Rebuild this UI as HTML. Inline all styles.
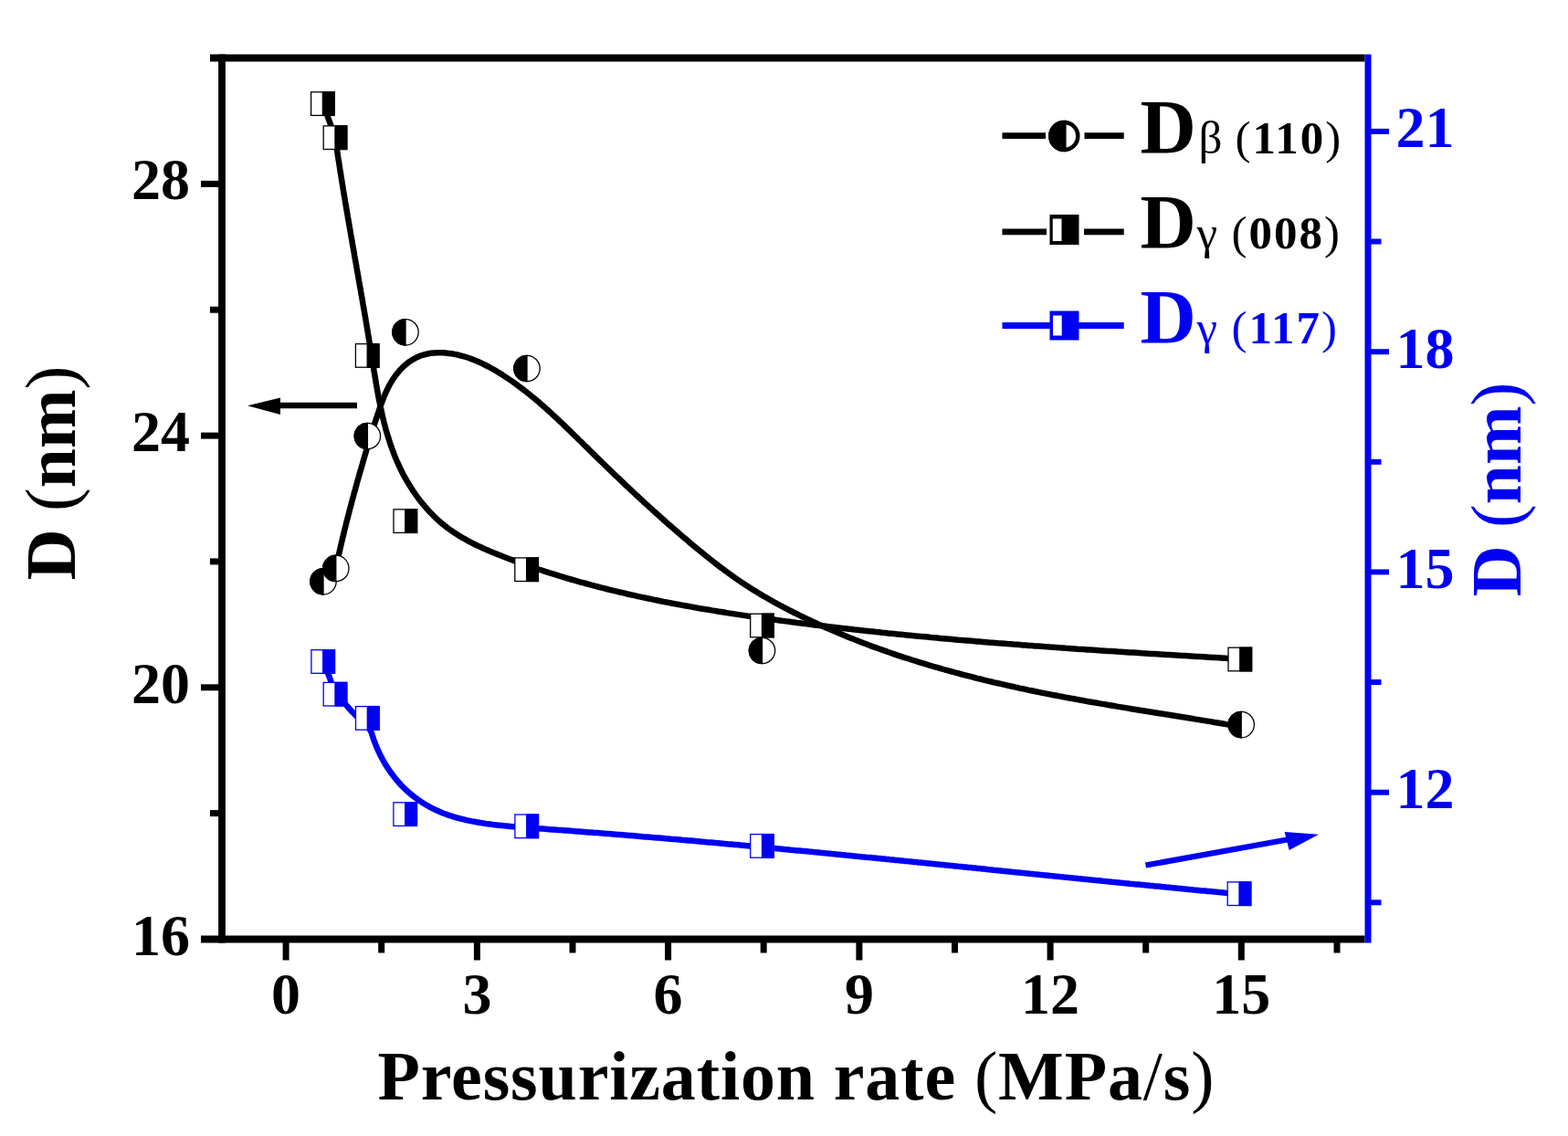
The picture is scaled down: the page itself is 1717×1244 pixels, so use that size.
<!DOCTYPE html>
<html><head><meta charset="utf-8"><title>Crystallite size vs pressurization rate</title>
<style>html,body{margin:0;padding:0;background:#fff;overflow:hidden}svg{display:block}</style>
</head><body>
<svg width="1717" height="1244" viewBox="0 0 1717 1244"><rect width="1717" height="1244" fill="#fff"/><g stroke="#000" stroke-width="7.8" fill="none"><line x1="230" y1="63.5" x2="1494.5" y2="63.5"/><line x1="220" y1="1028.5" x2="1494.5" y2="1028.5"/><line x1="243" y1="59.6" x2="243" y2="1032.4"/></g><g stroke="#000" stroke-width="7"><line x1="313.1" y1="1028.5" x2="313.1" y2="1051.5"/><line x1="522.4" y1="1028.5" x2="522.4" y2="1051.5"/><line x1="731.6" y1="1028.5" x2="731.6" y2="1051.5"/><line x1="940.9" y1="1028.5" x2="940.9" y2="1051.5"/><line x1="1150.1" y1="1028.5" x2="1150.1" y2="1051.5"/><line x1="1359.3" y1="1028.5" x2="1359.3" y2="1051.5"/><line x1="417.7" y1="1028.5" x2="417.7" y2="1043.5"/><line x1="627.0" y1="1028.5" x2="627.0" y2="1043.5"/><line x1="836.2" y1="1028.5" x2="836.2" y2="1043.5"/><line x1="1045.5" y1="1028.5" x2="1045.5" y2="1043.5"/><line x1="1254.7" y1="1028.5" x2="1254.7" y2="1043.5"/><line x1="1464.0" y1="1028.5" x2="1464.0" y2="1043.5"/><line x1="220" y1="1028.5" x2="243" y2="1028.5"/><line x1="220" y1="752.8" x2="243" y2="752.8"/><line x1="220" y1="477.1" x2="243" y2="477.1"/><line x1="220" y1="201.4" x2="243" y2="201.4"/><line x1="230" y1="890.6" x2="243" y2="890.6"/><line x1="230" y1="614.9" x2="243" y2="614.9"/><line x1="230" y1="339.2" x2="243" y2="339.2"/><line x1="230" y1="63.5" x2="243" y2="63.5"/></g><g stroke="#0000f2" stroke-width="6"><line x1="1498" y1="59.6" x2="1498" y2="1032.4" stroke-width="7"/><line x1="1498" y1="867.7" x2="1521" y2="867.7"/><line x1="1498" y1="626.4" x2="1521" y2="626.4"/><line x1="1498" y1="385.2" x2="1521" y2="385.2"/><line x1="1498" y1="143.9" x2="1521" y2="143.9"/><line x1="1498" y1="988.3" x2="1512.5" y2="988.3"/><line x1="1498" y1="747.0" x2="1512.5" y2="747.0"/><line x1="1498" y1="505.8" x2="1512.5" y2="505.8"/><line x1="1498" y1="264.5" x2="1512.5" y2="264.5"/></g><g font-family="'Liberation Serif', 'Times New Roman', serif" font-weight="bold" font-size="64" fill="#000"><text x="313.1" y="1110" text-anchor="middle">0</text><text x="522.4" y="1110" text-anchor="middle">3</text><text x="731.6" y="1110" text-anchor="middle">6</text><text x="940.9" y="1110" text-anchor="middle">9</text><text x="1150.1" y="1110" text-anchor="middle">12</text><text x="1359.3" y="1110" text-anchor="middle">15</text><text x="208" y="1045.5" text-anchor="end">16</text><text x="208" y="769.8" text-anchor="end">20</text><text x="208" y="494.1" text-anchor="end">24</text><text x="208" y="218.4" text-anchor="end">28</text></g><g font-family="'Liberation Serif', 'Times New Roman', serif" font-weight="bold" font-size="64" fill="#0000f2"><text x="1528.5" y="885.2">12</text><text x="1528.5" y="643.9">15</text><text x="1528.5" y="402.7">18</text><text x="1528.5" y="161.4">21</text></g><text x="872" y="1204" text-anchor="middle" font-family="'Liberation Serif', 'Times New Roman', serif" font-weight="bold" font-size="76" letter-spacing="0.87">Pressurization rate <tspan font-weight="normal">(</tspan>MPa<tspan font-weight="normal">/</tspan>s<tspan font-weight="normal">)</tspan></text><text transform="translate(81.5,518) rotate(-90)" text-anchor="middle" font-family="'Liberation Serif', 'Times New Roman', serif" font-weight="bold" font-size="77.5">D <tspan font-weight="normal">(</tspan>nm<tspan font-weight="normal">)</tspan></text><text transform="translate(1665.4,536) rotate(-90)" text-anchor="middle" font-family="'Liberation Serif', 'Times New Roman', serif" font-weight="bold" font-size="77.5" fill="#0000f2">D <tspan font-weight="normal">(</tspan>nm<tspan font-weight="normal">)</tspan></text><path d="M353.4,113.6 L358.5,126.6 L367.0,150.5 L367.5,153.9 L368.0,157.3 L368.5,160.7 L369.0,164.0 L369.5,167.4 L370.0,170.8 L370.5,174.1 L371.1,177.5 L371.6,180.9 L372.1,184.2 L372.6,187.6 L373.2,190.9 L373.7,194.2 L374.2,197.6 L374.8,200.9 L375.3,204.2 L375.8,207.5 L376.4,210.9 L376.9,214.2 L377.5,217.5 L378.0,220.8 L378.6,224.1 L379.1,227.4 L379.7,230.7 L380.3,234.0 L380.8,237.3 L381.4,240.6 L382.0,243.9 L382.5,247.2 L383.1,250.4 L383.7,253.7 L384.2,257.0 L384.8,260.3 L385.4,263.6 L385.9,266.9 L386.5,270.1 L387.1,273.4 L387.7,276.7 L388.2,280.0 L388.8,283.3 L389.4,286.5 L390.0,289.8 L390.5,293.1 L391.1,296.4 L391.7,299.6 L392.3,302.9 L392.8,306.2 L393.4,309.5 L394.0,312.8 L394.6,316.1 L395.1,319.3 L395.7,322.6 L396.3,325.9 L396.9,329.2 L397.4,332.5 L398.0,335.8 L398.6,339.1 L399.1,342.4 L399.7,345.7 L400.3,349.0 L400.8,352.3 L401.4,355.6 L401.9,358.9 L402.5,362.2 L403.0,365.6 L403.6,368.9 L404.1,372.2 L404.7,375.5 L405.2,378.9 L405.8,382.2 L406.3,385.6 L406.9,388.9 L407.4,392.3 L407.9,395.6 L408.5,399.0 L409.0,402.3 L409.5,405.7 L410.1,409.1 L410.6,412.4 L411.2,415.8 L411.7,419.2 L412.3,422.5 L412.9,425.9 L413.5,429.3 L414.1,432.6 L414.7,436.0 L415.4,439.3 L416.1,442.6 L416.7,446.0 L417.5,449.3 L418.2,452.6 L418.9,455.9 L419.7,459.2 L420.5,462.5 L421.4,465.8 L422.2,469.1 L423.1,472.3 L424.1,475.6 L425.1,478.8 L426.1,482.0 L427.1,485.2 L428.2,488.4 L429.3,491.5 L430.5,494.7 L431.7,497.8 L432.9,500.9 L434.2,504.0 L435.6,507.1 L437.0,510.2 L438.4,513.2 L439.9,516.2 L441.4,519.2 L443.0,522.1 L444.6,525.0 L446.3,527.9 L448.0,530.8 L449.8,533.6 L451.6,536.4 L453.4,539.2 L455.3,541.9 L457.3,544.6 L459.3,547.2 L461.3,549.9 L463.4,552.4 L465.5,554.9 L467.7,557.4 L469.9,559.9 L472.2,562.2 L474.5,564.6 L476.9,566.9 L479.3,569.1 L481.7,571.3 L484.2,573.4 L486.8,575.5 L489.4,577.6 L492.0,579.5 L494.7,581.4 L497.4,583.3 L500.2,585.1 L503.0,586.9 L505.9,588.6 L508.8,590.2 L511.7,591.8 L514.6,593.4 L517.6,595.0 L520.6,596.5 L523.6,597.9 L526.7,599.3 L529.8,600.7 L532.9,602.1 L536.0,603.4 L539.1,604.8 L542.3,606.0 L545.4,607.3 L548.6,608.6 L551.7,609.8 L554.9,611.0 L558.1,612.2 L561.3,613.4 L564.4,614.6 L567.6,615.7 L570.8,616.9 L574.0,618.0 L577.2,619.1 L580.4,620.2 L583.6,621.3 L586.8,622.4 L590.0,623.5 L593.2,624.5 L596.4,625.6 L599.6,626.6 L602.8,627.7 L606.1,628.7 L609.3,629.7 L612.5,630.7 L615.7,631.6 L618.9,632.6 L622.2,633.6 L625.4,634.5 L628.6,635.4 L631.9,636.3 L635.1,637.3 L638.4,638.2 L641.6,639.0 L644.8,639.9 L648.1,640.8 L651.3,641.7 L654.6,642.5 L657.8,643.3 L661.1,644.2 L664.4,645.0 L667.6,645.8 L670.9,646.6 L674.1,647.4 L677.4,648.2 L680.7,648.9 L683.9,649.7 L687.2,650.5 L690.5,651.2 L693.8,651.9 L697.0,652.7 L700.3,653.4 L703.6,654.1 L706.9,654.8 L710.2,655.5 L713.4,656.2 L716.7,656.9 L720.0,657.5 L723.3,658.2 L726.6,658.9 L729.9,659.5 L733.2,660.1 L736.5,660.8 L739.8,661.4 L743.1,662.0 L746.4,662.6 L749.7,663.2 L753.0,663.8 L756.3,664.4 L759.6,665.0 L762.9,665.6 L766.2,666.2 L769.5,666.7 L772.8,667.3 L776.1,667.8 L779.4,668.4 L782.7,668.9 L786.0,669.5 L789.4,670.0 L792.7,670.5 L796.0,671.1 L799.3,671.6 L802.6,672.1 L805.9,672.6 L809.3,673.1 L812.6,673.6 L815.9,674.1 L819.2,674.6 L822.5,675.1 L825.9,675.5 L829.2,676.0 L832.5,676.5 L835.8,676.9 L839.2,677.4 L842.5,677.9 L845.8,678.3 L849.1,678.8 L852.5,679.2 L855.8,679.7 L859.1,680.1 L862.5,680.6 L865.8,681.0 L869.1,681.4 L872.4,681.9 L875.8,682.3 L879.1,682.7 L882.4,683.1 L885.8,683.6 L889.1,684.0 L892.4,684.4 L895.8,684.8 L899.1,685.2 L902.4,685.6 L905.8,686.0 L909.1,686.4 L912.4,686.8 L915.8,687.2 L919.1,687.6 L922.4,687.9 L925.8,688.3 L929.1,688.7 L932.4,689.1 L935.8,689.5 L939.1,689.8 L942.4,690.2 L945.8,690.6 L949.1,690.9 L952.5,691.3 L955.8,691.6 L959.1,692.0 L962.5,692.3 L965.8,692.7 L969.1,693.0 L972.5,693.4 L975.8,693.7 L979.2,694.1 L982.5,694.4 L985.9,694.7 L989.2,695.1 L992.5,695.4 L995.9,695.7 L999.2,696.1 L1002.6,696.4 L1005.9,696.7 L1009.2,697.0 L1012.6,697.3 L1015.9,697.6 L1019.3,698.0 L1022.6,698.3 L1026.0,698.6 L1029.3,698.9 L1032.7,699.2 L1036.0,699.5 L1039.4,699.8 L1042.7,700.1 L1046.0,700.4 L1049.4,700.7 L1052.7,700.9 L1056.1,701.2 L1059.4,701.5 L1062.8,701.8 L1066.1,702.1 L1069.5,702.4 L1072.8,702.6 L1076.2,702.9 L1079.5,703.2 L1082.9,703.5 L1086.2,703.7 L1089.6,704.0 L1092.9,704.3 L1096.3,704.5 L1099.6,704.8 L1103.0,705.1 L1106.3,705.3 L1109.7,705.6 L1113.0,705.8 L1116.4,706.1 L1119.7,706.4 L1123.1,706.6 L1126.4,706.9 L1129.8,707.1 L1133.1,707.4 L1136.5,707.6 L1139.8,707.8 L1143.2,708.1 L1146.5,708.3 L1149.9,708.6 L1153.2,708.8 L1156.6,709.0 L1159.9,709.3 L1163.3,709.5 L1166.6,709.8 L1170.0,710.0 L1173.3,710.2 L1176.7,710.4 L1180.0,710.7 L1183.4,710.9 L1186.8,711.1 L1190.1,711.4 L1193.5,711.6 L1196.8,711.8 L1200.2,712.0 L1203.5,712.3 L1206.9,712.5 L1210.2,712.7 L1213.6,712.9 L1216.9,713.1 L1220.3,713.3 L1223.6,713.6 L1227.0,713.8 L1230.4,714.0 L1233.7,714.2 L1237.1,714.4 L1240.4,714.6 L1243.8,714.8 L1247.1,715.0 L1250.5,715.3 L1253.8,715.5 L1257.2,715.7 L1260.5,715.9 L1263.9,716.1 L1267.3,716.3 L1270.6,716.5 L1274.0,716.7 L1277.3,716.9 L1280.7,717.1 L1284.0,717.3 L1287.4,717.5 L1290.7,717.7 L1294.1,717.9 L1297.4,718.1 L1300.8,718.3 L1304.2,718.5 L1307.5,718.7 L1310.9,718.9 L1314.2,719.1 L1317.6,719.3 L1320.9,719.5 L1324.3,719.7 L1327.6,719.9 L1331.0,720.1 L1334.3,720.3 L1337.7,720.5 L1341.1,720.7 L1344.4,720.9 L1347.8,721.1 L1351.1,721.3 L1354.5,721.5 L1357.8,721.7" fill="none" stroke="#000" stroke-width="6.5" stroke-linejoin="round"/><path d="M353.9,636.8 L367.6,622.4 L368.3,619.3 L369.0,616.2 L369.7,613.1 L370.4,609.9 L371.1,606.8 L371.8,603.7 L372.5,600.6 L373.2,597.5 L374.0,594.4 L374.7,591.3 L375.4,588.2 L376.2,585.1 L376.9,582.0 L377.7,578.9 L378.5,575.8 L379.2,572.7 L380.0,569.6 L380.8,566.6 L381.6,563.5 L382.4,560.4 L383.2,557.3 L384.0,554.3 L384.8,551.2 L385.6,548.1 L386.5,545.0 L387.3,542.0 L388.1,538.9 L389.0,535.9 L389.8,532.8 L390.7,529.7 L391.5,526.7 L392.4,523.6 L393.2,520.6 L394.1,517.5 L395.0,514.5 L395.9,511.5 L396.8,508.4 L397.6,505.4 L398.5,502.3 L399.4,499.3 L400.3,496.3 L401.2,493.2 L402.1,490.2 L403.1,487.2 L404.0,484.2 L404.9,481.1 L405.8,478.1 L406.7,475.1 L407.7,472.1 L408.6,469.1 L409.6,466.0 L410.5,463.0 L411.5,460.0 L412.5,457.0 L413.5,454.0 L414.5,451.0 L415.5,447.9 L416.6,444.9 L417.7,441.9 L418.8,438.9 L420.0,435.9 L421.2,432.9 L422.5,429.9 L423.8,427.0 L425.2,424.1 L426.7,421.3 L428.3,418.5 L430.0,415.8 L431.8,413.1 L433.7,410.5 L435.7,408.0 L437.7,405.6 L439.8,403.4 L442.1,401.2 L444.4,399.1 L446.8,397.2 L449.2,395.4 L451.8,393.8 L454.5,392.3 L457.2,390.9 L460.0,389.8 L462.9,388.8 L465.9,388.0 L468.9,387.3 L472.0,386.8 L475.2,386.5 L478.4,386.3 L481.6,386.2 L484.8,386.3 L488.0,386.5 L491.3,386.9 L494.5,387.3 L497.7,387.9 L500.9,388.5 L504.0,389.3 L507.2,390.1 L510.2,391.0 L513.3,392.0 L516.3,393.1 L519.3,394.2 L522.3,395.5 L525.2,396.8 L528.1,398.1 L530.9,399.5 L533.8,401.0 L536.6,402.5 L539.4,404.0 L542.2,405.6 L544.9,407.3 L547.6,408.9 L550.3,410.6 L553.0,412.4 L555.6,414.1 L558.3,415.9 L560.9,417.7 L563.5,419.5 L566.0,421.4 L568.6,423.3 L571.1,425.2 L573.6,427.1 L576.1,429.0 L578.6,431.0 L581.1,433.0 L583.5,435.0 L586.0,437.0 L588.4,439.1 L590.8,441.1 L593.2,443.2 L595.6,445.3 L598.0,447.4 L600.3,449.5 L602.7,451.7 L605.0,453.8 L607.3,456.0 L609.7,458.1 L612.0,460.3 L614.3,462.5 L616.6,464.7 L618.9,466.9 L621.2,469.1 L623.5,471.3 L625.8,473.6 L628.1,475.8 L630.3,478.0 L632.6,480.2 L634.9,482.5 L637.2,484.7 L639.4,487.0 L641.7,489.2 L644.0,491.4 L646.3,493.7 L648.5,495.9 L650.8,498.1 L653.1,500.4 L655.4,502.6 L657.7,504.8 L659.9,507.0 L662.2,509.2 L664.5,511.5 L666.8,513.7 L669.1,515.9 L671.4,518.1 L673.7,520.3 L676.0,522.5 L678.3,524.7 L680.6,526.9 L682.9,529.1 L685.2,531.3 L687.6,533.5 L689.9,535.6 L692.2,537.8 L694.5,540.0 L696.8,542.2 L699.2,544.3 L701.5,546.5 L703.9,548.6 L706.2,550.8 L708.5,552.9 L710.9,555.1 L713.2,557.2 L715.6,559.4 L718.0,561.5 L720.3,563.6 L722.7,565.7 L725.1,567.9 L727.4,570.0 L729.8,572.1 L732.2,574.2 L734.6,576.3 L737.0,578.4 L739.4,580.5 L741.8,582.5 L744.2,584.6 L746.6,586.7 L749.0,588.7 L751.5,590.8 L753.9,592.9 L756.3,594.9 L758.7,596.9 L761.2,599.0 L763.6,601.0 L766.1,603.0 L768.6,605.0 L771.0,607.1 L773.5,609.0 L776.0,611.0 L778.5,613.0 L781.0,615.0 L783.5,616.9 L786.0,618.9 L788.5,620.8 L791.1,622.7 L793.6,624.6 L796.2,626.5 L798.7,628.4 L801.3,630.2 L803.9,632.1 L806.5,633.9 L809.1,635.7 L811.8,637.5 L814.4,639.3 L817.1,641.0 L819.8,642.7 L822.4,644.5 L825.1,646.1 L827.9,647.8 L830.6,649.5 L833.3,651.1 L836.1,652.7 L838.8,654.3 L841.6,655.9 L844.4,657.5 L847.2,659.1 L850.0,660.6 L852.8,662.1 L855.6,663.6 L858.4,665.1 L861.3,666.6 L864.1,668.1 L866.9,669.5 L869.8,671.0 L872.7,672.4 L875.5,673.8 L878.4,675.2 L881.3,676.6 L884.1,678.0 L887.0,679.3 L889.9,680.7 L892.8,682.0 L895.7,683.4 L898.6,684.7 L901.5,686.0 L904.4,687.3 L907.3,688.6 L910.2,689.8 L913.2,691.1 L916.1,692.3 L919.0,693.6 L921.9,694.8 L924.9,696.0 L927.8,697.2 L930.8,698.4 L933.7,699.6 L936.7,700.8 L939.7,701.9 L942.6,703.1 L945.6,704.2 L948.6,705.3 L951.5,706.5 L954.5,707.6 L957.5,708.7 L960.5,709.7 L963.5,710.8 L966.5,711.9 L969.5,712.9 L972.5,714.0 L975.5,715.0 L978.5,716.1 L981.5,717.1 L984.5,718.1 L987.5,719.1 L990.5,720.1 L993.6,721.0 L996.6,722.0 L999.6,723.0 L1002.7,723.9 L1005.7,724.9 L1008.7,725.8 L1011.8,726.7 L1014.8,727.7 L1017.9,728.6 L1020.9,729.5 L1024.0,730.4 L1027.0,731.2 L1030.1,732.1 L1033.2,733.0 L1036.2,733.8 L1039.3,734.7 L1042.4,735.5 L1045.4,736.4 L1048.5,737.2 L1051.6,738.0 L1054.7,738.8 L1057.7,739.6 L1060.8,740.4 L1063.9,741.2 L1067.0,742.0 L1070.1,742.8 L1073.2,743.5 L1076.3,744.3 L1079.4,745.1 L1082.4,745.8 L1085.5,746.5 L1088.6,747.3 L1091.7,748.0 L1094.9,748.7 L1098.0,749.4 L1101.1,750.1 L1104.2,750.8 L1107.3,751.5 L1110.4,752.2 L1113.5,752.9 L1116.6,753.6 L1119.7,754.2 L1122.8,754.9 L1126.0,755.6 L1129.1,756.2 L1132.2,756.8 L1135.3,757.5 L1138.4,758.1 L1141.6,758.8 L1144.7,759.4 L1147.8,760.0 L1150.9,760.6 L1154.1,761.2 L1157.2,761.8 L1160.3,762.4 L1163.5,763.0 L1166.6,763.6 L1169.7,764.2 L1172.8,764.8 L1176.0,765.3 L1179.1,765.9 L1182.2,766.5 L1185.4,767.0 L1188.5,767.6 L1191.6,768.2 L1194.8,768.7 L1197.9,769.3 L1201.0,769.8 L1204.2,770.4 L1207.3,770.9 L1210.5,771.4 L1213.6,772.0 L1216.7,772.5 L1219.9,773.0 L1223.0,773.6 L1226.2,774.1 L1229.3,774.6 L1232.4,775.1 L1235.6,775.6 L1238.7,776.2 L1241.9,776.7 L1245.0,777.2 L1248.1,777.7 L1251.3,778.2 L1254.4,778.7 L1257.6,779.2 L1260.7,779.7 L1263.9,780.3 L1267.0,780.8 L1270.1,781.3 L1273.3,781.8 L1276.4,782.3 L1279.6,782.8 L1282.7,783.3 L1285.9,783.8 L1289.0,784.3 L1292.1,784.8 L1295.3,785.3 L1298.4,785.8 L1301.6,786.3 L1304.7,786.8 L1307.9,787.4 L1311.0,787.9 L1314.1,788.4 L1317.3,788.9 L1320.4,789.4 L1323.6,789.9 L1326.7,790.4 L1329.8,791.0 L1333.0,791.5 L1336.1,792.0 L1339.3,792.5 L1342.4,793.1 L1345.6,793.6 L1348.7,794.1 L1351.8,794.7 L1355.0,795.2" fill="none" stroke="#000" stroke-width="6.5" stroke-linejoin="round"/><path d="M353.7,724.5 L360.9,741.8 L367.0,760.2 L376.0,768.5 L385.0,778.8 L395.0,789.0 L404.5,798.0 L406.9,802.5 L407.6,805.0 L408.4,807.4 L409.2,809.8 L410.1,812.2 L411.0,814.6 L411.9,816.9 L412.9,819.3 L414.0,821.6 L415.0,823.9 L416.1,826.2 L417.3,828.5 L418.5,830.8 L419.7,833.0 L420.9,835.2 L422.2,837.4 L423.6,839.5 L424.9,841.6 L426.4,843.7 L427.8,845.8 L429.3,847.8 L430.8,849.8 L432.4,851.8 L433.9,853.7 L435.6,855.7 L437.2,857.5 L438.9,859.4 L440.6,861.2 L442.4,862.9 L444.2,864.6 L446.0,866.3 L447.9,868.0 L449.8,869.6 L451.7,871.1 L453.6,872.7 L455.6,874.1 L457.6,875.6 L459.6,877.0 L461.7,878.4 L463.7,879.7 L465.9,881.0 L468.0,882.2 L470.1,883.4 L472.3,884.6 L474.5,885.7 L476.7,886.8 L479.0,887.8 L481.2,888.8 L483.5,889.8 L485.8,890.7 L488.1,891.5 L490.4,892.4 L492.8,893.2 L495.1,893.9 L497.5,894.7 L499.9,895.4 L502.3,896.0 L504.7,896.6 L507.1,897.2 L509.6,897.8 L512.0,898.4 L514.5,898.9 L516.9,899.4 L519.4,899.8 L521.9,900.3 L524.4,900.7 L526.9,901.1 L529.4,901.5 L531.8,901.9 L534.4,902.2 L536.9,902.5 L539.4,902.9 L541.9,903.2 L544.4,903.5 L546.9,903.7 L549.4,904.0 L551.9,904.3 L554.4,904.5 L556.9,904.7 L559.4,905.0 L561.9,905.2 L564.4,905.4 L566.9,905.6 L569.4,905.8 L571.9,906.0 L574.4,906.2 L576.9,906.4 L579.4,906.6 L581.9,906.7 L584.4,906.9 L586.9,907.1 L589.4,907.3 L591.9,907.5 L594.4,907.6 L596.9,907.8 L599.4,908.0 L601.9,908.2 L604.4,908.4 L606.9,908.5 L609.3,908.7 L611.8,908.9 L614.3,909.1 L616.8,909.3 L619.3,909.5 L621.8,909.6 L624.3,909.8 L626.8,910.0 L629.3,910.2 L631.8,910.4 L634.3,910.6 L636.8,910.8 L639.3,911.0 L641.8,911.2 L644.3,911.4 L646.8,911.5 L649.3,911.7 L651.8,911.9 L654.3,912.1 L656.8,912.3 L659.3,912.5 L661.8,912.7 L664.2,912.9 L666.7,913.1 L669.2,913.3 L671.7,913.5 L674.2,913.7 L676.7,913.9 L679.2,914.1 L681.7,914.3 L684.2,914.5 L686.7,914.7 L689.2,914.9 L691.7,915.1 L694.2,915.3 L696.7,915.5 L699.2,915.7 L701.7,915.9 L704.2,916.2 L706.7,916.4 L709.1,916.6 L711.6,916.8 L714.1,917.0 L716.6,917.2 L719.1,917.4 L721.6,917.6 L724.1,917.8 L726.6,918.0 L729.1,918.3 L731.6,918.5 L734.1,918.7 L736.6,918.9 L739.1,919.1 L741.6,919.3 L744.1,919.5 L746.6,919.8 L749.0,920.0 L751.5,920.2 L754.0,920.4 L756.5,920.6 L759.0,920.8 L761.5,921.1 L764.0,921.3 L766.5,921.5 L769.0,921.7 L771.5,921.9 L774.0,922.2 L776.5,922.4 L779.0,922.6 L781.5,922.8 L783.9,923.1 L786.4,923.3 L788.9,923.5 L791.4,923.7 L793.9,924.0 L796.4,924.2 L798.9,924.4 L801.4,924.6 L803.9,924.9 L806.4,925.1 L808.9,925.3 L811.4,925.6 L813.9,925.8 L816.4,926.0 L818.8,926.2 L821.3,926.5 L823.8,926.7 L826.3,926.9 L828.8,927.2 L831.3,927.4 L833.8,927.6 L836.3,927.9 L838.8,928.1 L841.3,928.3 L843.8,928.6 L846.3,928.8 L848.8,929.0 L851.2,929.3 L853.7,929.5 L856.2,929.7 L858.7,930.0 L861.2,930.2 L863.7,930.4 L866.2,930.7 L868.7,930.9 L871.2,931.2 L873.7,931.4 L876.2,931.6 L878.7,931.9 L881.1,932.1 L883.6,932.3 L886.1,932.6 L888.6,932.8 L891.1,933.1 L893.6,933.3 L896.1,933.5 L898.6,933.8 L901.1,934.0 L903.6,934.3 L906.1,934.5 L908.6,934.7 L911.0,935.0 L913.5,935.2 L916.0,935.5 L918.5,935.7 L921.0,936.0 L923.5,936.2 L926.0,936.5 L928.5,936.7 L931.0,936.9 L933.5,937.2 L936.0,937.4 L938.5,937.7 L940.9,937.9 L943.4,938.2 L945.9,938.4 L948.4,938.7 L950.9,938.9 L953.4,939.1 L955.9,939.4 L958.4,939.6 L960.9,939.9 L963.4,940.1 L965.9,940.4 L968.3,940.6 L970.8,940.9 L973.3,941.1 L975.8,941.4 L978.3,941.6 L980.8,941.9 L983.3,942.1 L985.8,942.4 L988.3,942.6 L990.8,942.9 L993.3,943.1 L995.7,943.4 L998.2,943.6 L1000.7,943.9 L1003.2,944.1 L1005.7,944.4 L1008.2,944.6 L1010.7,944.9 L1013.2,945.1 L1015.7,945.4 L1018.2,945.6 L1020.7,945.9 L1023.1,946.1 L1025.6,946.4 L1028.1,946.6 L1030.6,946.9 L1033.1,947.1 L1035.6,947.4 L1038.1,947.6 L1040.6,947.9 L1043.1,948.1 L1045.6,948.4 L1048.1,948.6 L1050.5,948.9 L1053.0,949.1 L1055.5,949.4 L1058.0,949.6 L1060.5,949.9 L1063.0,950.1 L1065.5,950.4 L1068.0,950.6 L1070.5,950.9 L1073.0,951.1 L1075.5,951.4 L1077.9,951.6 L1080.4,951.9 L1082.9,952.2 L1085.4,952.4 L1087.9,952.7 L1090.4,952.9 L1092.9,953.2 L1095.4,953.4 L1097.9,953.7 L1100.4,953.9 L1102.9,954.2 L1105.3,954.4 L1107.8,954.7 L1110.3,954.9 L1112.8,955.2 L1115.3,955.4 L1117.8,955.7 L1120.3,955.9 L1122.8,956.2 L1125.3,956.4 L1127.8,956.7 L1130.2,956.9 L1132.7,957.2 L1135.2,957.4 L1137.7,957.7 L1140.2,957.9 L1142.7,958.2 L1145.2,958.4 L1147.7,958.7 L1150.2,959.0 L1152.7,959.2 L1155.2,959.5 L1157.6,959.7 L1160.1,960.0 L1162.6,960.2 L1165.1,960.5 L1167.6,960.7 L1170.1,961.0 L1172.6,961.2 L1175.1,961.5 L1177.6,961.7 L1180.1,962.0 L1182.6,962.2 L1185.0,962.5 L1187.5,962.7 L1190.0,963.0 L1192.5,963.2 L1195.0,963.5 L1197.5,963.7 L1200.0,964.0 L1202.5,964.2 L1205.0,964.4 L1207.5,964.7 L1210.0,964.9 L1212.4,965.2 L1214.9,965.4 L1217.4,965.7 L1219.9,965.9 L1222.4,966.2 L1224.9,966.4 L1227.4,966.7 L1229.9,966.9 L1232.4,967.2 L1234.9,967.4 L1237.4,967.7 L1239.9,967.9 L1242.3,968.2 L1244.8,968.4 L1247.3,968.6 L1249.8,968.9 L1252.3,969.1 L1254.8,969.4 L1257.3,969.6 L1259.8,969.9 L1262.3,970.1 L1264.8,970.4 L1267.3,970.6 L1269.7,970.8 L1272.2,971.1 L1274.7,971.3 L1277.2,971.6 L1279.7,971.8 L1282.2,972.1 L1284.7,972.3 L1287.2,972.5 L1289.7,972.8 L1292.2,973.0 L1294.7,973.3 L1297.2,973.5 L1299.6,973.7 L1302.1,974.0 L1304.6,974.2 L1307.1,974.5 L1309.6,974.7 L1312.1,974.9 L1314.6,975.2 L1317.1,975.4 L1319.6,975.6 L1322.1,975.9 L1324.6,976.1 L1327.1,976.3 L1329.5,976.6 L1332.0,976.8 L1334.5,977.1 L1337.0,977.3 L1339.5,977.5 L1342.0,977.8 L1344.5,978.0 L1347.0,978.2 L1349.5,978.5 L1352.0,978.7 L1354.5,978.9 L1357.0,979.2" fill="none" stroke="#0000f2" stroke-width="6.5" stroke-linejoin="round"/><rect x="340.6" y="100.8" width="25.6" height="25.6" fill="#fff" stroke="#000" stroke-width="1.3"/><rect x="353.4" y="100.8" width="12.8" height="25.6" fill="#000" stroke="#000" stroke-width="1.3"/><rect x="354.2" y="137.9" width="25.6" height="25.6" fill="#fff" stroke="#000" stroke-width="1.3"/><rect x="367.0" y="137.9" width="12.8" height="25.6" fill="#000" stroke="#000" stroke-width="1.3"/><rect x="389.4" y="376.6" width="25.6" height="25.6" fill="#fff" stroke="#000" stroke-width="1.3"/><rect x="402.2" y="376.6" width="12.8" height="25.6" fill="#000" stroke="#000" stroke-width="1.3"/><rect x="431.0" y="557.8" width="25.6" height="25.6" fill="#fff" stroke="#000" stroke-width="1.3"/><rect x="443.8" y="557.8" width="12.8" height="25.6" fill="#000" stroke="#000" stroke-width="1.3"/><rect x="563.8" y="610.9" width="25.6" height="25.6" fill="#fff" stroke="#000" stroke-width="1.3"/><rect x="576.6" y="610.9" width="12.8" height="25.6" fill="#000" stroke="#000" stroke-width="1.3"/><rect x="821.7" y="672.2" width="25.6" height="25.6" fill="#fff" stroke="#000" stroke-width="1.3"/><rect x="834.5" y="672.2" width="12.8" height="25.6" fill="#000" stroke="#000" stroke-width="1.3"/><rect x="1345.0" y="709.2" width="25.6" height="25.6" fill="#fff" stroke="#000" stroke-width="1.3"/><rect x="1357.8" y="709.2" width="12.8" height="25.6" fill="#000" stroke="#000" stroke-width="1.3"/><circle cx="354" cy="636.8" r="14.2" fill="#fff" stroke="#000" stroke-width="1.3"/><path d="M354,622.5999999999999 A14.2,14.2 0 0 0 354,651.0 Z" fill="#000" stroke="#000" stroke-width="1.3"/><circle cx="367.8" cy="622.4" r="14.2" fill="#fff" stroke="#000" stroke-width="1.3"/><path d="M367.8,608.1999999999999 A14.2,14.2 0 0 0 367.8,636.6 Z" fill="#000" stroke="#000" stroke-width="1.3"/><circle cx="402.4" cy="477.5" r="14.2" fill="#fff" stroke="#000" stroke-width="1.3"/><path d="M402.4,463.3 A14.2,14.2 0 0 0 402.4,491.7 Z" fill="#000" stroke="#000" stroke-width="1.3"/><circle cx="444" cy="363.8" r="14.2" fill="#fff" stroke="#000" stroke-width="1.3"/><path d="M444,349.6 A14.2,14.2 0 0 0 444,378.0 Z" fill="#000" stroke="#000" stroke-width="1.3"/><circle cx="577" cy="403.5" r="14.2" fill="#fff" stroke="#000" stroke-width="1.3"/><path d="M577,389.3 A14.2,14.2 0 0 0 577,417.7 Z" fill="#000" stroke="#000" stroke-width="1.3"/><circle cx="834.5" cy="712.5" r="14.2" fill="#fff" stroke="#000" stroke-width="1.3"/><path d="M834.5,698.3 A14.2,14.2 0 0 0 834.5,726.7 Z" fill="#000" stroke="#000" stroke-width="1.3"/><circle cx="1359.2" cy="793.6" r="14.2" fill="#fff" stroke="#000" stroke-width="1.3"/><path d="M1359.2,779.4 A14.2,14.2 0 0 0 1359.2,807.8000000000001 Z" fill="#000" stroke="#000" stroke-width="1.3"/><rect x="340.9" y="711.7" width="25.6" height="25.6" fill="#fff" stroke="#0000f2" stroke-width="1.3"/><rect x="353.7" y="711.7" width="12.8" height="25.6" fill="#0000f2" stroke="#0000f2" stroke-width="1.3"/><rect x="354.2" y="747.4" width="25.6" height="25.6" fill="#fff" stroke="#0000f2" stroke-width="1.3"/><rect x="367.0" y="747.4" width="12.8" height="25.6" fill="#0000f2" stroke="#0000f2" stroke-width="1.3"/><rect x="389.5" y="773.6" width="25.6" height="25.6" fill="#fff" stroke="#0000f2" stroke-width="1.3"/><rect x="402.3" y="773.6" width="12.8" height="25.6" fill="#0000f2" stroke="#0000f2" stroke-width="1.3"/><rect x="430.9" y="878.8" width="25.6" height="25.6" fill="#fff" stroke="#0000f2" stroke-width="1.3"/><rect x="443.7" y="878.8" width="12.8" height="25.6" fill="#0000f2" stroke="#0000f2" stroke-width="1.3"/><rect x="563.9" y="892.0" width="25.6" height="25.6" fill="#fff" stroke="#0000f2" stroke-width="1.3"/><rect x="576.7" y="892.0" width="12.8" height="25.6" fill="#0000f2" stroke="#0000f2" stroke-width="1.3"/><rect x="821.7" y="913.6" width="25.6" height="25.6" fill="#fff" stroke="#0000f2" stroke-width="1.3"/><rect x="834.5" y="913.6" width="12.8" height="25.6" fill="#0000f2" stroke="#0000f2" stroke-width="1.3"/><rect x="1344.2" y="965.9" width="25.6" height="25.6" fill="#fff" stroke="#0000f2" stroke-width="1.3"/><rect x="1357.0" y="965.9" width="12.8" height="25.6" fill="#0000f2" stroke="#0000f2" stroke-width="1.3"/><line x1="300" y1="444.1" x2="391" y2="444.1" stroke="#000" stroke-width="6.5"/><path d="M271,444.3 L307,435.5 L307,454 Z" fill="#000"/><line x1="1254.5" y1="947.5" x2="1415" y2="918.5" stroke="#0000f2" stroke-width="6.3"/><path d="M1444,913.7 L1406.6,911.1 L1411.7,931 Z" fill="#0000f2"/><line x1="1097.5" y1="148.7" x2="1145" y2="148.7" stroke="#000" stroke-width="6.8"/><line x1="1187.5" y1="148.7" x2="1230.7" y2="148.7" stroke="#000" stroke-width="6.8"/><circle cx="1165.3" cy="149" r="15" fill="#fff" stroke="#000" stroke-width="4.5"/><path d="M1165.3,134 A15,15 0 0 0 1165.3,164 Z" fill="#000" stroke="#000" stroke-width="4.5"/><line x1="1097.5" y1="253.8" x2="1146" y2="253.8" stroke="#000" stroke-width="6.8"/><line x1="1187" y1="253.8" x2="1230.7" y2="253.8" stroke="#000" stroke-width="6.8"/><rect x="1149.5" y="235" width="32" height="33" fill="#000"/><rect x="1152.7" y="239.5" width="9.8" height="24.5" fill="#fff"/><line x1="1097.5" y1="356.5" x2="1230.7" y2="356.5" stroke="#0000f2" stroke-width="6.8"/><rect x="1149.5" y="340.5" width="32" height="32" fill="#0000f2"/><rect x="1153" y="345.5" width="9.7" height="22" fill="#fff"/><g font-family="'Liberation Serif', 'Times New Roman', serif"><text x="1248.5" y="167.8" font-size="85" font-weight="bold" fill="#000">D</text><text x="1312.5" y="167.8" font-size="51" font-weight="normal" fill="#000">β</text><text x="1352.6" y="167.8" font-size="51" font-weight="bold" letter-spacing="2" fill="#000"><tspan font-weight="normal">(</tspan>110<tspan font-weight="normal">)</tspan></text><text x="1248.5" y="272" font-size="85" font-weight="bold" fill="#000">D</text><text x="1310.6" y="272" font-size="51" font-weight="normal" fill="#000">γ</text><text x="1348.4" y="272" font-size="51" font-weight="bold" letter-spacing="2" fill="#000"><tspan font-weight="normal">(</tspan>008<tspan font-weight="normal">)</tspan></text><text x="1248.5" y="375.5" font-size="85" font-weight="bold" fill="#0000f2">D</text><text x="1310.6" y="375.5" font-size="51" font-weight="normal" fill="#0000f2">γ</text><text x="1348.4" y="375.5" font-size="51" font-weight="bold" letter-spacing="2" fill="#0000f2"><tspan font-weight="normal">(</tspan>117<tspan font-weight="normal">)</tspan></text></g></svg>
</body></html>
